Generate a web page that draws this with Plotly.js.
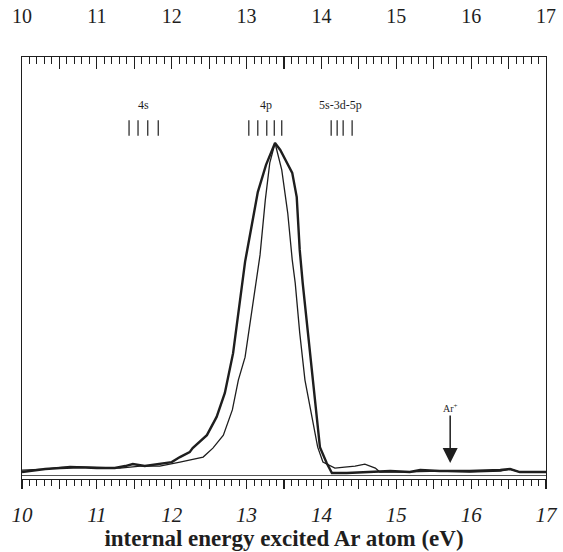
<!DOCTYPE html>
<html>
<head>
<meta charset="utf-8">
<script src="https://cdn.plot.ly/plotly-3.0.1.min.js"></script>
<style>html,body{margin:0;padding:0;background:#fff;}#chart{width:563px;height:552px;}</style>
</head>
<body>
<div id="chart"></div>
<script>
// Broad spectrum (thick line)
const broadEnergy = [10.0,10.11,10.31,10.51,10.77,11.0,11.24,11.38,11.48,11.64,11.84,12.0,12.11,12.24,12.28,12.47,12.6,12.71,12.82,12.91,12.98,13.15,13.26,13.38,13.45,13.61,13.67,13.71,13.75,13.82,13.9,13.98,14.07,14.14,14.34,14.65,14.92,15.18,15.32,15.58,15.98,16.39,16.52,16.65,17.0];
const broadIntensity = [0.9,1.2,1.8,2.1,2.3,2.1,2.1,2.7,3.3,2.7,3.3,3.9,5.4,6.9,8.1,12.0,17.5,24.7,36.7,52.7,64.2,85.2,93.4,100,97.9,91,83.7,67.8,57.8,42.8,26.2,8.4,3.6,0.6,0.6,0.9,1.2,0.9,1.5,1.2,1.2,1.5,1.8,0.9,0.9];
// Narrow spectrum (thin line)
const narrowEnergy = [10.0,10.31,10.64,11.0,11.31,11.58,11.84,12.11,12.42,12.55,12.69,12.81,12.89,12.98,13.09,13.18,13.25,13.31,13.38,13.47,13.55,13.61,13.65,13.71,13.78,13.87,13.95,14.02,14.18,14.31,14.45,14.58,14.72,14.78,15.05,15.58,15.98,16.39,16.52,16.65,17.0];
const narrowIntensity = [1.5,1.8,2.6,2.4,2.1,2.7,2.7,3.9,5.4,8.1,12.0,19.6,28.6,35.5,52.7,66.3,82.8,94,100,91.9,78.9,64.8,57.8,42.8,28.6,18,8.4,3.9,2.1,2.4,2.7,3.3,2.1,0.9,0.9,1.2,0.9,1.2,1.8,0.9,0.9];
// Energy level marks
const levels4s = [11.43,11.55,11.68,11.82];
const levels4p = [13.03,13.15,13.27,13.37,13.47];
const levels5s = [14.13,14.21,14.29,14.41];
const levelGroups = ["4s","4p","5s-3d-5p"];
const ionEnergy = 15.72;
const ionLabel = "Ar<sup>+</sup>";
const xTickVals = [10,11,12,13,14,15,16,17];
const xTickText = ["10","11","12","13","14","15","16","17"];

const ink = "#1e1e1e";
const serif = "Liberation Serif, Times New Roman, serif";
const markY = 104.5;
const labelY = 111.5;

function marks(xs){
  return {x: xs, y: xs.map(()=>markY), mode:"markers", type:"scatter", xaxis:"x", yaxis:"y",
    marker:{symbol:"line-ns-open", size:11, color:ink, line:{width:1.2, color:ink}}, hoverinfo:"skip", showlegend:false};
}
function mean(a){return a.reduce((s,v)=>s+v,0)/a.length;}
function dummy(ax){return {x:[10,17], y:[null,null], xaxis:ax, yaxis:"y", mode:"lines", showlegend:false, hoverinfo:"skip"};}

const traces = [
  {x: narrowEnergy, y: narrowIntensity, mode:"lines", type:"scatter", line:{color:ink, width:1.3}, showlegend:false},
  {x: broadEnergy, y: broadIntensity, mode:"lines", type:"scatter", line:{color:ink, width:2.4}, showlegend:false},
  marks(levels4s), marks(levels4p), marks(levels5s),
  dummy("x2"), dummy("x3"), dummy("x4")
];

const groupX = [mean(levels4s), mean(levels4p), mean(levels5s)];
const annotations = groupX.map((gx,i)=>({x:gx, y:labelY, xref:"x", yref:"y", text:levelGroups[i], showarrow:false,
  font:{family:serif, size:12, color:ink}}));
annotations.push({x: ionEnergy, y: 3.6, xref:"x", yref:"y", ax:0, ay:-55, showarrow:true,
  arrowhead:2, arrowsize:2, arrowwidth:1.5, arrowcolor:ink, text:ionLabel,
  font:{family:serif, size:10, color:ink}});

const halfTicks = {range:[10,17], overlaying:"x", dtick:0.5, tick0:10, showticklabels:false, showgrid:false, zeroline:false, showline:false, tickwidth:1.2, tickcolor:ink};

const layout = {
  width:563, height:552,
  margin:{l:22, r:17, t:57, b:73},
  paper_bgcolor:"#fff", plot_bgcolor:"#fff",
  showlegend:false,
  xaxis:{range:[10,17], tickvals:xTickVals, ticktext:xTickText, ticks:"outside", ticklen:9, tickwidth:1.2, tickcolor:ink,
    minor:{dtick:0.1, ticks:"outside", ticklen:6, tickwidth:1, tickcolor:ink},
    showline:true, linecolor:ink, linewidth:1.3, showgrid:false, zeroline:false,
    tickfont:{family:serif, size:21, color:ink, style:"italic"}, ticklabelstandoff:7,
    title:{text:"<b>internal energy excited Ar atom (eV)</b>", font:{family:serif, size:23, color:ink}, standoff:4}},
  xaxis2:{range:[10,17], overlaying:"x", side:"top", tickvals:xTickVals, ticktext:xTickText, ticks:"inside", ticklen:12, tickwidth:1.2, tickcolor:ink,
    minor:{dtick:0.1, ticks:"inside", ticklen:7, tickwidth:1, tickcolor:ink},
    showline:true, linecolor:ink, linewidth:1.5, showgrid:false, zeroline:false,
    tickfont:{family:serif, size:20, color:ink}, ticklabelstandoff:25},
  xaxis3:Object.assign({}, halfTicks, {side:"bottom", ticks:"outside", ticklen:9}),
  xaxis4:Object.assign({}, halfTicks, {side:"top", ticks:"inside", ticklen:12}),
  yaxis:{range:[-1.2,125.9], showline:true, mirror:true, linecolor:ink, linewidth:1.3, ticks:"", showticklabels:false,
    showgrid:false, zeroline:true, zerolinecolor:"#555", zerolinewidth:1},
  annotations: annotations
};

Plotly.newPlot("chart", traces, layout, {displayModeBar:false, staticPlot:true});
</script>
</body>
</html>
